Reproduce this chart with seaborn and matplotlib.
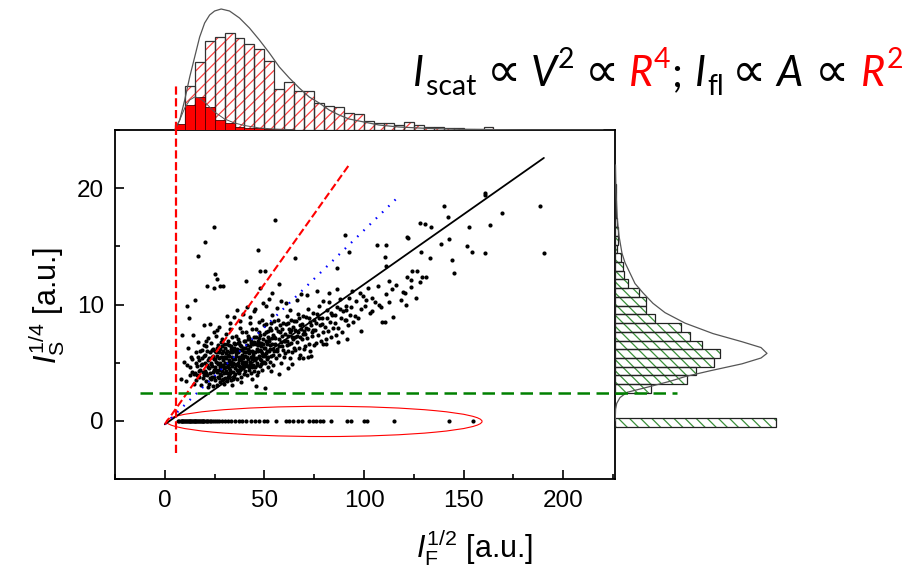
import numpy as np
import pandas as pd
import seaborn as sns
import matplotlib.pyplot as plt
from matplotlib.patches import Ellipse
from matplotlib.ticker import MultipleLocator

# top histogram (I_F^1/2): bar heights
top_edges = [5, 10, 15, 20, 25, 30, 35, 40, 45, 50, 55, 60, 65, 70, 75, 80, 85,
             90, 95, 100, 105, 110, 115, 120, 125, 130, 135, 140, 145, 150, 155, 160, 165]
top_all = [5, 44, 68, 89, 93, 97, 92, 86, 81, 69, 41, 48, 39, 39, 27, 24, 23, 17, 16, 9,
           7, 7, 5, 8, 5, 3, 3, 2, 2, 1.5, 1, 3]
top_zero = [6, 25, 33, 23, 10, 7, 3, 2, 2, 1, 1, 1, 0.5, 0.5, 0.5, 0.5, 0, 0, 0, 0,
            0, 0, 0, 0, 0, 0, 0, 0, 0, 0, 0, 0]
top_fit_x = [5, 7.5, 10, 12.5, 15, 17.5, 20, 22.5, 25, 28.3, 32.5, 37.5, 42.5, 47.5, 52.5,
             57.5, 62.5, 67.5, 72.5, 77.5, 82.5, 87.5, 92.5, 97.5, 107.5, 117.5, 130.8, 147.5, 180.8, 220]
top_fit_h = [0, 10, 30, 53, 73, 93, 107, 115, 119, 121, 119, 112, 102, 90, 77,
             63, 52, 42, 33, 27, 20, 15, 11, 9, 5, 3, 1.7, 0.7, 0.1, 0]
zero_fit_x = [5, 7.5, 10, 12.5, 15, 17.5, 20, 25, 30, 35, 40, 47.5, 55, 65]
zero_fit_h = [0, 10, 22, 30, 33, 32, 28, 18, 11, 7, 4.5, 2, 1, 0.3]

# right histogram (I_S^1/4)
right_edges = [2.4, 3.15, 3.9, 4.65, 5.4, 6.15, 6.9, 7.65, 8.4, 9.15, 9.9, 10.65, 11.4,
               12.15, 12.9, 13.65, 14.4, 15.15, 15.9, 16.65, 17.4, 18.15, 18.9, 19.65, 20.4]
right_counts = [35.7, 71.7, 80.7, 99.3, 105, 86.7, 75, 66, 40, 30.7, 31, 24.3, 13.3, 9,
                8.3, 5.7, 2.3, 3.3, 3.3, 1.5, 1, 1, 0.7, 0.5]
right_zero_edges = [-0.5, 0.25]
right_zero_count = [160.7]
right_fit_y = [0.0, 1.0, 1.5, 2.0, 2.45, 2.95, 3.4, 3.8, 4.3, 4.9, 5.4, 5.8, 6.3, 6.8, 7.5,
               8.4, 9.3, 10.1, 11.0, 11.8, 12.7, 13.6, 14.4, 15.9, 17.3, 19.7, 22.0]
right_fit_w = [0.2, 0.6, 1.7, 5, 12, 35, 55, 70, 95, 127, 146, 152, 146, 127, 98,
               70, 50, 38, 28, 20, 15, 10, 7, 4, 2.3, 1, 0.5]

# scatter: dense cloud (estimated by eye)
cloud = [
    (8.2, 3.6), (9.4, 5.1),
    (10.5, 3.4), (11.2, 4.8), (11.8, 6.3), (12.4, 3.9), (13.1, 5.5), (13.6, 4.2), (14.2, 7.4), (14.7, 3.2),
    (15.2, 4.1), (15.5, 5.9), (15.9, 3.5), (16.3, 4.7), (16.8, 6.8), (17.0, 3.8), (17.4, 5.2), (17.9, 4.4),
    (18.2, 3.1), (18.5, 6.1), (18.9, 4.9), (19.3, 3.7), (19.6, 5.6), (19.8, 8.2),
    (20.1, 4.3), (20.3, 5.7), (20.6, 3.4), (20.9, 6.4), (21.1, 4.8), (21.4, 3.9), (21.6, 5.2), (21.9, 7.1),
    (22.1, 4.5), (22.3, 3.2), (22.6, 5.9), (22.8, 4.1), (23.0, 6.7), (23.2, 5.0), (23.4, 3.6), (23.7, 4.7),
    (23.9, 5.5), (24.1, 3.0), (24.3, 6.2), (24.5, 4.4), (24.7, 7.6), (24.9, 5.3), (21.7, 2.9), (22.9, 8.3),
    (20.5, 6.9), (23.5, 3.8),
    (25.1, 4.6), (25.3, 6.0), (25.4, 3.5), (25.6, 5.1), (25.8, 7.3), (26.0, 4.2), (26.2, 5.6), (26.3, 3.1),
    (26.5, 6.5), (26.7, 4.9), (26.9, 3.8), (27.0, 5.4), (27.2, 8.1), (27.4, 4.4), (27.5, 6.2), (27.7, 3.3),
    (27.9, 5.0), (28.0, 4.7), (28.2, 6.8), (28.4, 3.9), (28.5, 5.8), (28.7, 4.3), (28.9, 7.0), (29.0, 5.2),
    (29.2, 3.6), (29.4, 6.0), (29.5, 4.5), (29.7, 5.5), (29.9, 3.2), (25.9, 5.9), (27.6, 4.0), (28.8, 6.4),
    (26.4, 7.8),
    (30.1, 5.0), (30.2, 3.7), (30.4, 6.3), (30.6, 4.6), (30.7, 7.5), (30.9, 5.4), (31.1, 4.1), (31.2, 6.0),
    (31.4, 3.4), (31.6, 5.7), (31.7, 4.8), (31.9, 6.9), (32.1, 5.2), (32.2, 3.9), (32.4, 6.5), (32.6, 4.4),
    (32.7, 5.9), (32.9, 8.4), (33.1, 5.1), (33.2, 3.5), (33.4, 6.2), (33.6, 4.7), (33.7, 5.5), (33.9, 7.2),
    (34.1, 4.2), (34.2, 6.0), (34.4, 5.3), (34.6, 3.8), (34.7, 6.7), (34.9, 4.9), (31.0, 9.0), (32.5, 7.9),
    (33.5, 3.1), (34.5, 8.9), (30.5, 5.8), (32.0, 4.5),
    (35.1, 5.3), (35.2, 4.0), (35.4, 6.6), (35.6, 4.8), (35.7, 7.3), (35.9, 5.6), (36.1, 4.4), (36.2, 6.2),
    (36.4, 3.6), (36.6, 5.9), (36.7, 5.0), (36.9, 7.0), (37.1, 5.5), (37.2, 4.1), (37.4, 6.8), (37.6, 4.6),
    (37.7, 6.1), (37.9, 8.0), (38.1, 5.2), (38.2, 3.8), (38.4, 6.4), (38.6, 5.0), (38.7, 5.7), (38.9, 7.6),
    (39.1, 4.5), (39.2, 6.3), (39.4, 5.4), (39.6, 4.0), (39.7, 6.9), (39.9, 5.1), (36.0, 9.5), (37.5, 8.6),
    (38.5, 3.3), (39.5, 9.2), (35.5, 6.0), (37.0, 4.7),
    (40.1, 5.6), (40.3, 4.3), (40.5, 6.9), (40.6, 5.1), (40.8, 7.6), (41.0, 5.9), (41.2, 4.7), (41.3, 6.5),
    (41.5, 3.9), (41.7, 6.2), (41.8, 5.3), (42.0, 7.3), (42.2, 5.8), (42.3, 4.4), (42.5, 7.1), (42.7, 4.9),
    (42.8, 6.4), (43.0, 8.4), (43.2, 5.5), (43.3, 4.1), (43.5, 6.7), (43.7, 5.3), (43.8, 6.0), (44.0, 7.9),
    (44.2, 4.8), (44.3, 6.6), (44.5, 5.7), (44.7, 4.3), (44.8, 7.2), (45.0, 5.4), (41.1, 9.8), (42.6, 8.9),
    (43.6, 3.6), (44.6, 9.4),
    (45.2, 5.9), (45.4, 4.6), (45.6, 7.2), (45.8, 5.4), (46.0, 7.9), (46.2, 6.2), (46.4, 5.0), (46.6, 6.8),
    (46.8, 4.2), (47.0, 6.5), (47.2, 5.6), (47.4, 7.6), (47.6, 6.1), (47.8, 4.7), (48.0, 7.4), (48.2, 5.2),
    (48.4, 6.7), (48.6, 8.7), (48.8, 5.8), (49.0, 4.4), (49.2, 7.0), (49.4, 5.6), (49.6, 6.3), (49.8, 8.2),
    (45.5, 9.6), (46.5, 3.9), (47.5, 8.5), (48.5, 4.9), (49.5, 10.1), (46.9, 6.9), (48.1, 6.0), (49.9, 5.1),
    (50.2, 6.3), (50.4, 5.0), (50.6, 7.6), (50.8, 5.8), (51.0, 8.3), (51.3, 6.6), (51.5, 5.3), (51.7, 7.2),
    (51.9, 4.6), (52.1, 6.9), (52.3, 6.0), (52.6, 8.0), (52.8, 6.5), (53.0, 5.1), (53.2, 7.8), (53.4, 5.6),
    (53.7, 7.1), (53.9, 9.1), (54.1, 6.2), (54.3, 4.8), (54.5, 7.4), (54.8, 6.0), (50.9, 9.9), (52.4, 10.5),
    (53.5, 4.3), (54.6, 8.6), (51.1, 6.8),
    (55.3, 6.6), (55.7, 5.4), (56.0, 8.0), (56.4, 6.2), (56.8, 8.7), (57.2, 7.0), (57.5, 5.7), (57.9, 7.6),
    (58.2, 5.0), (58.6, 7.3), (58.9, 6.4), (59.3, 8.4), (59.6, 6.9), (59.8, 5.5), (56.2, 9.7), (58.4, 10.3),
    (60.2, 6.9), (60.5, 5.8), (60.8, 8.3), (61.1, 6.5), (61.4, 9.0), (61.7, 7.3), (62.0, 6.0), (62.3, 7.9),
    (62.6, 5.4), (62.9, 7.6), (63.2, 6.7), (63.5, 8.7), (63.8, 7.2), (64.1, 5.9), (64.4, 8.1), (64.7, 6.3),
    (61.0, 10.1), (62.8, 9.5), (64.0, 4.9),
    (65.2, 7.2), (65.6, 6.1), (66.0, 8.6), (66.3, 6.8), (66.7, 9.2), (67.0, 7.6), (67.4, 6.3), (67.8, 8.2),
    (68.1, 5.7), (68.5, 7.9), (68.8, 7.0), (69.2, 9.0), (69.5, 7.5), (69.8, 6.2), (66.5, 10.4), (68.3, 10.9),
    (70.2, 7.5), (70.6, 6.4), (71.0, 8.9), (71.3, 7.1), (71.7, 9.6), (72.0, 7.9), (72.4, 6.6), (72.8, 8.5),
    (73.1, 6.0), (73.5, 8.2), (73.8, 7.3), (74.2, 9.3), (74.5, 7.8), (74.8, 6.5), (71.5, 10.8), (73.3, 5.6),
    (75.3, 7.8), (75.8, 6.7), (76.3, 9.2), (76.8, 7.4), (77.3, 9.9), (77.8, 8.2), (78.3, 6.9), (78.8, 8.8),
    (79.2, 7.6), (79.6, 10.3), (76.5, 11.2),
    (80.3, 8.1), (80.8, 7.0), (81.4, 9.5), (81.9, 7.7), (82.5, 10.2), (83.0, 8.5), (83.6, 7.2), (84.1, 9.1),
    (84.6, 8.0), (82.2, 11.0),
    (85.3, 8.4), (85.9, 7.4), (86.5, 9.8), (87.1, 8.0), (87.7, 10.5), (88.3, 8.8), (88.9, 7.6), (89.5, 9.4),
    (86.2, 11.3),
    (90.4, 8.7), (91.1, 9.9), (91.8, 8.2), (92.5, 10.6), (93.2, 9.1), (93.9, 11.2), (94.6, 8.5),
    (95.4, 9.0), (96.2, 10.3), (97.0, 8.8), (97.8, 11.0), (98.6, 9.6), (99.4, 10.7),
    (100.5, 9.9), (101.8, 11.4), (102.9, 9.3), (104.2, 10.6), (105.6, 10.2), (107.1, 11.6), (108.7, 9.8),
    (110.8, 10.9), (112.3, 12.0), (113.9, 11.3), (116.0, 11.7), (118.5, 10.4), (121.8, 12.4), (123.5, 11.5),
    (126.4, 12.9), (128.1, 11.9),
]
# extra points in the dense core
cloud_core = [
    (12.9, 4.6), (13.8, 5.3), (14.5, 4.0), (15.7, 5.0), (16.1, 3.9), (16.6, 5.5), (17.3, 4.3), (17.7, 6.0),
    (18.0, 4.8), (18.7, 5.4), (19.1, 4.2), (19.5, 6.5), (19.9, 3.9),
    (20.4, 5.0), (20.8, 4.1), (21.3, 6.0), (21.8, 4.6), (22.2, 5.4), (22.7, 3.7), (23.1, 4.9), (23.6, 6.1),
    (24.0, 4.2), (24.4, 5.6), (24.8, 3.8),
    (25.2, 5.3), (25.7, 4.4), (26.1, 6.3), (26.6, 5.0), (27.1, 3.7), (27.3, 5.9), (27.8, 4.6), (28.3, 5.5),
    (28.6, 3.5), (29.1, 4.8), (29.6, 6.6), (29.8, 4.1),
    (30.3, 5.5), (30.8, 4.3), (31.3, 6.6), (31.5, 5.0), (31.8, 3.8), (32.3, 5.6), (32.8, 4.1), (33.0, 6.4),
    (33.3, 4.9), (33.8, 5.9), (34.0, 3.6), (34.3, 5.0), (34.8, 6.3),
    (35.3, 4.5), (35.8, 5.8), (36.3, 4.9), (36.5, 6.7), (36.8, 4.3), (37.3, 5.2), (37.8, 6.5), (38.0, 4.4),
    (38.3, 5.5), (38.8, 6.1), (39.3, 4.8), (39.8, 5.9),
    (40.2, 6.3), (40.7, 4.8), (41.2, 5.5), (41.6, 7.0), (42.1, 4.6), (42.4, 6.0), (42.9, 5.1), (43.4, 6.9),
    (43.9, 4.6), (44.4, 5.9), (44.9, 6.8),
    (45.3, 5.2), (45.7, 6.6), (46.1, 4.8), (46.7, 6.0), (47.1, 7.1), (47.7, 5.3), (48.3, 6.4), (48.7, 5.0),
    (49.3, 6.6), (49.7, 7.5),
    (50.3, 5.6), (50.7, 6.9), (51.2, 6.0), (51.6, 7.7), (52.0, 5.5), (52.5, 7.0), (52.9, 6.2), (53.3, 8.4),
    (53.8, 6.6), (54.2, 5.7), (54.7, 7.2),
    (55.5, 7.1), (56.1, 6.0), (56.6, 7.7), (57.1, 6.4), (57.7, 8.2), (58.1, 6.8), (58.8, 7.9), (59.4, 6.1),
    (60.4, 7.5), (61.2, 6.9), (61.9, 8.4), (62.5, 6.6), (63.3, 7.8), (64.2, 7.0), (64.9, 8.6),
    (65.4, 7.8), (66.2, 7.3), (67.2, 8.8), (68.0, 7.2), (69.0, 8.3), (69.9, 7.7),
    (70.8, 8.0), (72.2, 8.8), (73.7, 7.6), (74.9, 8.7), (76.0, 8.4), (77.5, 8.8), (79.0, 8.3), (81.2, 8.8),
    (83.3, 9.3), (85.6, 9.1), (88.0, 9.6), (90.8, 9.5), (93.5, 9.8),
]
# scatter: isolated points
sparse = [
    (24.7, 16.7), (20.2, 15.4), (16.7, 14.2), (55.5, 17.3), (47.0, 14.7), (90.5, 16.0), (65.5, 14.0),
    (25.0, 12.6), (26.0, 12.2), (21.3, 11.6), (24.5, 11.4), (29.0, 11.6), (11.3, 9.9), (15.2, 10.4),
    (40.8, 12.0), (48.0, 12.9), (50.3, 12.9), (57.5, 11.8), (47.8, 11.4), (53.7, 11.0), (8.5, 7.4),
    (12.2, 8.8), (92.5, 14.5), (86.2, 13.1), (106.7, 15.1), (111.2, 15.1), (121.7, 15.8), (122.2, 15.7),
    (128.0, 17.0), (130.5, 16.9), (133.7, 16.7), (140.0, 18.5), (142.0, 17.5), (160.5, 19.6), (160.8, 19.4),
    (188.3, 18.5), (169.2, 17.9), (163.3, 16.8), (152.5, 16.7), (142.8, 15.6), (138.8, 15.2), (151.7, 15.0),
    (154.2, 14.5), (160.8, 14.4), (190.3, 14.4), (144.2, 13.8), (145.0, 12.7), (133.3, 14.0), (128.8, 14.5),
    (124.2, 12.9), (129.2, 12.4), (131.3, 12.4), (123.8, 12.1), (119.5, 11.1), (120.8, 11.0), (126.3, 10.6),
    (121.3, 10.0), (110.5, 14.1), (111.2, 13.3), (114.5, 8.9), (109.2, 8.5), (110.3, 8.5), (98.3, 7.7),
    (103.8, 9.4), (107.5, 10.0), (112.5, 10.2), (100.8, 10.4), (91.2, 8.7), (87.0, 6.8), (91.3, 7.0),
    (79.2, 6.6), (80.8, 6.6), (71.7, 5.5), (67.2, 5.4), (69.5, 5.4), (61.8, 4.5), (57.5, 4.0), (45.8, 3.0),
    (50.3, 2.8), (27.8, 11.6),
]
# points on the I_S = 0 line
zero_x = [6.8, 7.3, 7.9, 8.4, 8.8, 9.3, 9.7, 10.2, 10.6, 11.1, 11.5, 11.9, 12.4, 12.8, 13.3, 13.7,
          14.1, 14.6, 15.0, 15.4, 15.9, 16.3, 16.7, 17.2, 17.6, 18.1, 18.5, 19.0, 19.4, 19.9, 20.5,
          21.2, 21.8, 22.5, 23.3, 24.2, 25.0, 26.1, 27.3, 28.6, 30.0, 31.5, 33.2, 35.0, 37.0,
          39.0, 41.0, 43.3, 45.5, 47.2, 50.0, 51.2, 55.8, 60.8, 62.5, 64.2, 66.7, 68.8, 72.5,
          74.2, 75.8, 77.8, 79.2, 83.3, 91.7, 93.3, 100.0, 101.7, 115.3, 142.5, 154.7]

# fitted lines through the origin: (end x, end y)
fit_start = (0, -0.3)
fit_black = (190.3, 22.6)
fit_blue = (116.3, 19.1)
fit_red = (92.5, 22.0)
x_threshold = 5.8
y_threshold = 2.4

W, H = 905, 576
sns.set_style('ticks')
plt.rcParams['font.family'] = ['Liberation Sans', 'DejaVu Sans']
plt.rcParams['mathtext.fontset'] = 'custom'
plt.rcParams['mathtext.rm'] = 'Liberation Sans'
plt.rcParams['mathtext.it'] = 'Liberation Sans:italic'
plt.rcParams['hatch.linewidth'] = 0.9
for k in ['text.color', 'axes.labelcolor', 'xtick.color', 'ytick.color', 'axes.edgecolor']:
    plt.rcParams[k] = 'black'

fig = plt.figure(figsize=(W / 100, H / 100), dpi=100)
main_box = [115 / W, 1 - 479 / H, 500 / W, 349 / H]
ax = fig.add_axes(main_box)
ax_top = fig.add_axes([115 / W, 1 - 130 / H, 500 / W, 130 / H])
ax_right = fig.add_axes([615 / W, main_box[1], 290 / W, main_box[3]])

# scatter
pts = pd.DataFrame(cloud + cloud_core + sparse + [(x, 0) for x in zero_x], columns=['x', 'y'])
sns.scatterplot(data=pts, x='x', y='y', ax=ax, s=9, color='black', linewidth=0, zorder=2)

ax.plot([fit_start[0], fit_black[0]], [fit_start[1], fit_black[1]], color='black', lw=1.3, zorder=4)
ax.plot([fit_start[0], fit_blue[0]], [fit_start[1], fit_blue[1]], color='blue', lw=1.6,
        ls=(0, (0.7, 3.2)), zorder=5)
ax.plot([fit_start[0], fit_red[0]], [fit_start[1], fit_red[1]], color='red', lw=1.5, ls='--', zorder=5)
ax.plot([x_threshold, x_threshold], [-2.75, 26], color='red', lw=1.6, ls='--', zorder=5)
ax.plot([-12.5, 230], [y_threshold, y_threshold], color='green', lw=1.8, ls=(0, (5, 2.6)),
        zorder=5, clip_on=False)
ax.add_patch(Ellipse((80, -0.05), 158.5, 2.6, fill=False, edgecolor='red', lw=0.8, zorder=3))

ax.set_xlim(-25, 226)
ax.set_ylim(-5, 25)
ax.set_xticks([0, 50, 100, 150, 200])
ax.set_yticks([0, 10, 20])
ax.xaxis.set_minor_locator(MultipleLocator(25))
ax.yaxis.set_minor_locator(MultipleLocator(5))
ax.tick_params(which='both', direction='in', width=1.2, labelsize=17.5, pad=8)
ax.tick_params(which='major', length=6.5)
ax.tick_params(which='minor', length=3.3)
for sp in ax.spines.values():
    sp.set_linewidth(1.3)
    sp.set_visible(True)
ax.set_xlabel('')
ax.set_ylabel('')
fig.text(475 / W, 1 - 548 / H, r'$I_\mathrm{F}^{1/2}$ [a.u.]', fontsize=22, ha='center', va='center')
fig.text(47 / W, 1 - 305 / H, r'$I_\mathrm{S}^{1/4}$ [a.u.]', fontsize=22, ha='center', va='center',
         rotation=90)

# top histogram
top_centers = [(a + b) / 2 for a, b in zip(top_edges[:-1], top_edges[1:])]
sns.histplot(x=top_centers, weights=top_all, bins=top_edges, ax=ax_top, color='white', alpha=1,
             edgecolor='#ff4040', linewidth=0, hatch='///')
sns.histplot(x=top_centers, weights=top_all, bins=top_edges, ax=ax_top, fill=False,
             color='#333333', linewidth=0.9)
sns.histplot(x=top_centers, weights=top_zero, bins=top_edges, ax=ax_top, color='#ff0000', alpha=1,
             edgecolor='#500000', linewidth=0.6)
ax_top.plot(top_fit_x, top_fit_h, color='#555555', lw=0.9)
ax_top.plot(zero_fit_x, zero_fit_h, color='#555555', lw=0.7)
ax_top.plot([x_threshold, x_threshold], [0, 44], color='red', lw=1.6, ls='--')
ax_top.set_xlim(ax.get_xlim())
ax_top.set_ylim(0, 130)
ax_top.set_axis_off()

# right histogram
right_centers = [(a + b) / 2 for a, b in zip(right_edges[:-1], right_edges[1:])]
zero_center = [sum(right_zero_edges) / 2]
for c, w, e in [(right_centers, right_counts, right_edges), (zero_center, right_zero_count, right_zero_edges)]:
    sns.histplot(y=c, weights=w, bins=e, ax=ax_right, color='white', alpha=1,
                 edgecolor='#3a8f3a', linewidth=0, hatch='\\\\\\')
    sns.histplot(y=c, weights=w, bins=e, ax=ax_right, fill=False, color='#222222', linewidth=0.9)
ax_right.plot(right_fit_w, right_fit_y, color='#555555', lw=0.9)
ax_right.plot([0, 62], [y_threshold, y_threshold], color='green', lw=1.8, ls=(0, (5, 2.6)))
ax_right.set_xlim(0, 290)
ax_right.set_ylim(ax.get_ylim())
ax_right.set_axis_off()

# formula: I_scat ∝ V² ∝ R⁴; I_fl ∝ A ∝ R²
formula = [('I', 'it', 'black', 0), ('scat', 'sub', 'black', 2), ('∝', 'rm', 'black', 10),
           ('V', 'it', 'black', 10), ('2', 'sup', 'black', 1), ('∝', 'rm', 'black', 10),
           ('R', 'it', 'red', 10), ('4', 'sup', 'red', 1), (';', 'rm', 'black', 1),
           ('I', 'it', 'black', 12), ('fl', 'sub', 'black', 2), ('∝', 'rm', 'black', 8),
           ('A', 'it', 'black', 10), ('∝', 'rm', 'black', 12), ('R', 'it', 'red', 12),
           ('2', 'sup', 'red', 1)]


def draw_formula(x_px, y_px, size):
    r = fig.canvas.get_renderer()
    x = x_px
    for txt, kind, col, gap in formula:
        fs = size * 0.68 if kind in ('sub', 'sup') else size
        if txt == '∝':
            fs = size * 1.15
        dy = {'sub': -0.22, 'sup': 0.42}.get(kind, 0) * size * 100 / 72
        x += gap
        t = fig.text(x / W, 1 - (y_px - dy) / H, txt, fontsize=fs, color=col,
                     fontstyle='italic' if kind == 'it' else 'normal',
                     family=['Lato', 'DejaVu Sans'], ha='left', va='baseline')
        x += t.get_window_extent(r).width


draw_formula(413, 86, 30)

fig.savefig('out.png', dpi=100)
